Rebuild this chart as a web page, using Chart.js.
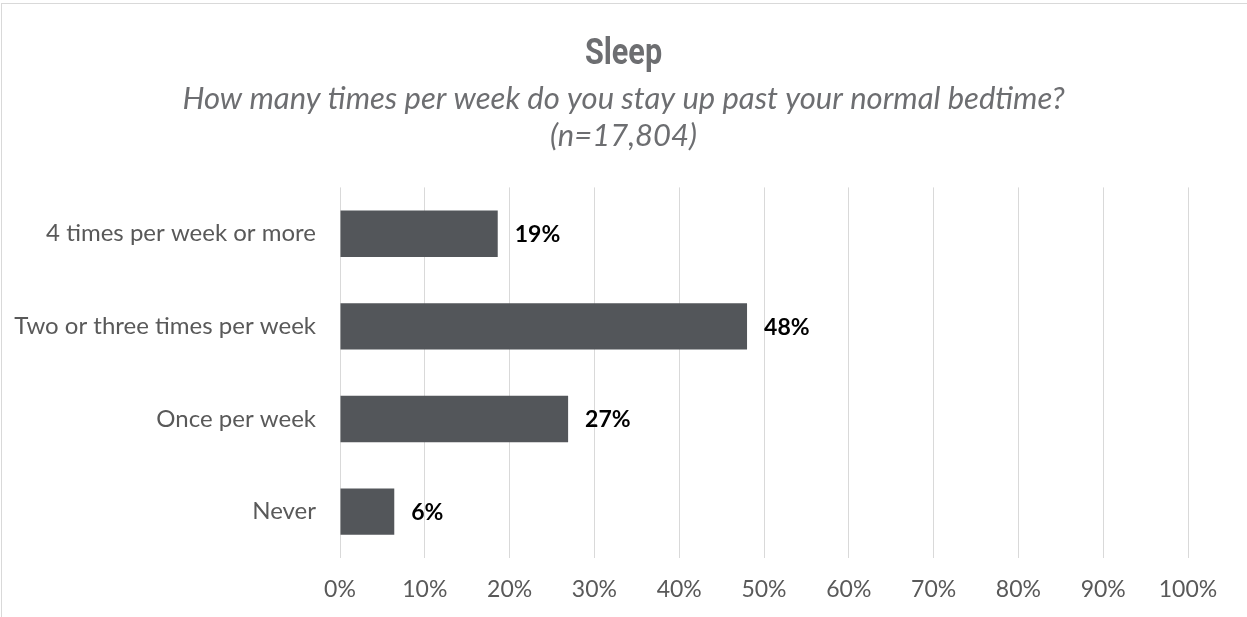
<!DOCTYPE html>
<html>
<head>
<meta charset="utf-8">
<script src="https://cdn.jsdelivr.net/npm/chart.js@4/dist/chart.umd.min.js"></script>
<style>
    html, body { margin: 0; padding: 0; background: #fff; }
    #wrap { position: relative; width: 1247px; height: 617px; }
    #frame {
        position: absolute; left: 1px; top: 3px; right: 0; bottom: 0;
        border-left: 1px solid #d9d9d9; border-top: 1px solid #d9d9d9;
        pointer-events: none;
    }
    #chart-title {
        position: absolute; left: 0; top: 34px; width: 1247px;
        margin: 0; text-align: center;
        font: bold 36px/36px Roboto, sans-serif; color: #6d6e71;
        transform: scaleX(0.85); transform-origin: 50% 50%;
    }
</style>
</head>
<body>
<div id="wrap">
    <canvas id="chart-sleep" width="1247" height="617"></canvas>
    <h1 id="chart-title">Sleep</h1>
    <div id="frame"></div>
</div>
<script>
const categories = [
    '4 times per week or more',
    'Two or three times per week',
    'Once per week',
    'Never',
];
const shares = [18.6, 48.0, 26.9, 6.4];
const shareLabels = ['19%', '48%', '27%', '6%'];
const tickValues = [0, 10, 20, 30, 40, 50, 60, 70, 80, 90, 100];
const subtitleLines = ['How many times per week do you stay up past your normal bedtime?', '(n=17,804)'];

const textMuted = '#595959';
const titleGrey = '#6d6e71';
const gridColor = '#d9d9d9';

// labels to the right of each bar
const barLabels = {
    id: 'barLabels',
    afterDatasetsDraw(chart) {
        const ctx = chart.ctx;
        const meta = chart.getDatasetMeta(0);
        ctx.save();
        ctx.font = 'bold 23px Lato';
        ctx.fillStyle = '#000';
        ctx.textAlign = 'left';
        ctx.textBaseline = 'middle';
        meta.data.forEach((bar, i) => {
            ctx.fillText(shareLabels[i], bar.x + 17, bar.y + 1);
        });
        ctx.restore();
    },
};

new Chart(document.getElementById('chart-sleep'), {
    type: 'bar',
    data: {
        labels: categories,
        datasets: [{
            data: shares,
            backgroundColor: '#53565a',
            borderWidth: 0,
            categoryPercentage: 0.5,
            barPercentage: 1,
        }],
    },
    plugins: [barLabels],
    options: {
        indexAxis: 'y',
        responsive: false,
        animation: false,
        layout: { padding: 0 },
        scales: {
            x: {
                min: 0,
                max: 100,
                afterBuildTicks: (scale) => {
                    scale.ticks = tickValues.map((v) => ({ value: v }));
                },
                afterFit: (scale) => { scale.height = 59; },
                ticks: {
                    color: textMuted,
                    font: { family: 'Lato', size: 23 },
                    padding: 18,
                    callback: (v) => v + '%',
                },
                grid: { color: gridColor, lineWidth: 1, drawTicks: false },
                border: { display: false },
            },
            y: {
                afterFit: (scale) => { scale.width = 340; },
                ticks: {
                    color: textMuted,
                    font: { family: 'Lato', size: 24 },
                    padding: 24,
                },
                grid: { display: false, drawTicks: false },
                border: { display: false },
            },
            // empty right-hand axis: keeps a margin right of the plot without
            // shifting the centred subtitle
            yRight: {
                type: 'category',
                position: 'right',
                afterFit: (scale) => { scale.width = 59; },
                ticks: { display: false },
                grid: { display: false, drawTicks: false },
                border: { display: false },
            },
        },
        plugins: {
            legend: { display: false },
            tooltip: { enabled: false },
            title: { display: false },
            subtitle: {
                display: true,
                text: subtitleLines,
                color: titleGrey,
                font: { family: 'Lato', size: 31, style: 'italic', lineHeight: 1.2 },
                padding: { top: 80, bottom: 33 },
            },
        },
    },
});
</script>
</body>
</html>
